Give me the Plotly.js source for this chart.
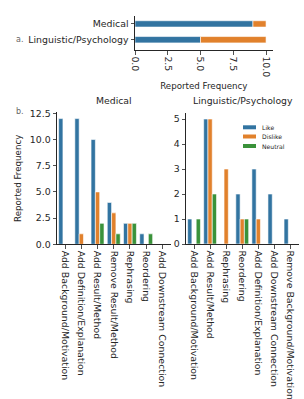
<!DOCTYPE html>
<html><head><meta charset="utf-8">
<script src="https://cdn.plot.ly/plotly-3.0.1.min.js"></script>
<style>html,body{margin:0;padding:0;background:#fff}#chart{width:304px;height:399px}</style>
</head><body><div id="chart"></div>
<script>
const W = 304, H = 399;

// ---- data ----
const topCategories = ['Medical', 'Linguistic/Psychology'];
const topLike = [9, 5];
const topDislike = [1, 5];

const medCategories = ['Add Background/Motivation', 'Add Definition/Explanation', 'Add Result/Method',
  'Remove Result/Method', 'Rephrasing', 'Reordering', 'Add Downstream Connection'];
const medLike = [12, 12, 10, 4, 2, 1, 0];
const medDislike = [0, 1, 5, 3, 2, 0, 0];
const medNeutral = [0, 0, 2, 1, 2, 1, 0];

const lingCategories = ['Add Background/Motivation', 'Add Result/Method', 'Rephrasing', 'Reordering',
  'Add Definition/Explanation', 'Add Downstream Connection', 'Remove Background/Motivation'];
const lingLike = [1, 5, 0, 2, 3, 2, 1];
const lingDislike = [0, 5, 3, 1, 1, 0, 0];
const lingNeutral = [1, 2, 0, 1, 0, 0, 0];

const seriesNames = ['Like', 'Dislike', 'Neutral'];
const seriesColors = ['#3274a1', '#e1812c', '#3a923a'];

// ---- helpers ----
const fx = p => p / W;
const fy = p => 1 - p / H;
const ink = '#262626';
const FONT = 'DejaVu Sans, sans-serif';
const edge = {color: 'white', width: 0.6};

const traces = [];
// top stacked horizontal
traces.push({type: 'bar', orientation: 'h', y: topCategories, x: topLike, name: 'Like',
  marker: {color: seriesColors[0], line: edge}, width: 0.4, offset: -0.2,
  xaxis: 'x', yaxis: 'y', showlegend: false, hoverinfo: 'none'});
traces.push({type: 'bar', orientation: 'h', y: topCategories, x: topDislike, base: topLike, name: 'Dislike',
  marker: {color: seriesColors[1], line: edge}, width: 0.4, offset: -0.2,
  xaxis: 'x', yaxis: 'y', showlegend: false, hoverinfo: 'none'});

const medSeries = [medLike, medDislike, medNeutral];
const lingSeries = [lingLike, lingDislike, lingNeutral];
medSeries.forEach((vals, i) => traces.push({type: 'bar', x: medCategories, y: vals, name: seriesNames[i],
  marker: {color: seriesColors[i], line: edge}, xaxis: 'x2', yaxis: 'y2', showlegend: false, hoverinfo: 'none'}));
lingSeries.forEach((vals, i) => traces.push({type: 'bar', x: lingCategories, y: vals, name: seriesNames[i],
  marker: {color: seriesColors[i], line: edge}, xaxis: 'x3', yaxis: 'y3', showlegend: false, hoverinfo: 'none'}));

const common = {showline: true, linecolor: ink, linewidth: 1, ticks: 'outside', ticklen: 3.5,
  tickwidth: 0.8, tickcolor: ink, showgrid: false, zeroline: false,
  tickfont: {family: FONT, size: 9.4, color: ink}, fixedrange: true};

const titleFont = {family: FONT, size: 8.7, color: ink};

const shapes = [];
const annotations = [];
// custom legend
const legY = [127.3, 136.5, 146];
seriesNames.forEach((n, i) => {
  shapes.push({type: 'rect', xref: 'paper', yref: 'paper', x0: fx(243), x1: fx(256),
    y0: fy(legY[i] + 2), y1: fy(legY[i] - 2), fillcolor: seriesColors[i], line: {width: 0}});
  annotations.push({xref: 'paper', yref: 'paper', x: fx(260), y: fy(legY[i]), xanchor: 'left', yanchor: 'middle',
    text: n, showarrow: false, font: {family: FONT, size: 6.1, color: ink}});
});
annotations.push({xref: 'paper', yref: 'paper', x: fx(14), y: fy(39), xanchor: 'left', yanchor: 'middle',
  text: 'a.', showarrow: false, font: {family: FONT, size: 8, color: '#666'}});
annotations.push({xref: 'paper', yref: 'paper', x: fx(14), y: fy(111.5), xanchor: 'left', yanchor: 'middle',
  text: 'b.', showarrow: false, font: {family: FONT, size: 8, color: '#666'}});
annotations.push({xref: 'paper', yref: 'paper', x: fx(113.8), y: fy(101), xanchor: 'center', yanchor: 'middle',
  text: 'Medical', showarrow: false, font: {family: FONT, size: 9.3, color: ink}});
annotations.push({xref: 'paper', yref: 'paper', x: fx(242.5), y: fy(101), xanchor: 'center', yanchor: 'middle',
  text: 'Linguistic/Psychology', showarrow: false, font: {family: FONT, size: 9.3, color: ink}});

const layout = {
  width: W, height: H, margin: {l: 0, r: 0, t: 0, b: 0},
  paper_bgcolor: 'white', plot_bgcolor: 'white',
  font: {family: FONT, color: ink},
  barmode: 'group', bargap: 0.2, bargroupgap: 0,
  showlegend: false,
  xaxis: Object.assign({}, common, {domain: [fx(135), fx(272.6)], range: [0, 10.5], tick0: 0, dtick: 2.5,
    tickformat: '.1f', tickangle: 90, anchor: 'y',
    title: {text: 'Reported Frequency', font: titleFont, standoff: 6}}),
  yaxis: Object.assign({}, common, {domain: [fy(50), fy(16)], type: 'category', categoryarray: topCategories,
    categoryorder: 'array', range: [1.65, -0.5], anchor: 'x'}),
  xaxis2: Object.assign({}, common, {domain: [fx(57), fx(170.5)], type: 'category', range: [-0.5, 6.5],
    tickangle: 90, anchor: 'y2'}),
  yaxis2: Object.assign({}, common, {domain: [fy(244.3), fy(112.3)], range: [0, 12.6], tick0: 0, dtick: 2.5,
    tickformat: '.1f', anchor: 'x2', title: {text: 'Reported Frequency', font: titleFont, standoff: 6}}),
  xaxis3: Object.assign({}, common, {domain: [fx(186), fx(298.5)], type: 'category', range: [-0.5, 6.5],
    tickangle: 90, anchor: 'y3'}),
  yaxis3: Object.assign({}, common, {domain: [fy(244), fy(112.75)], range: [0, 5.25], tick0: 0, dtick: 1,
    anchor: 'x3'}),
  shapes: shapes,
  annotations: annotations
};

Plotly.newPlot('chart', traces, layout, {staticPlot: true, displayModeBar: false});
</script>
</body></html>
